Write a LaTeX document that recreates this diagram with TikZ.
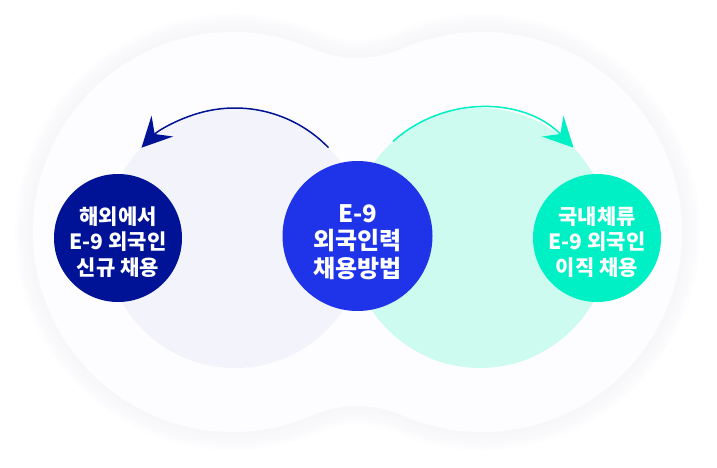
\documentclass[tikz,border=0pt]{standalone}
\usepackage{fontspec}
\newfontfamily\krfont{Noto Sans CJK KR}
\usepackage{tikz}
\usetikzlibrary{calc}
\usetikzlibrary{arrows.meta}

\definecolor{navy}{RGB}{0,19,150}
\definecolor{royal}{RGB}{31,52,232}
\definecolor{mint}{RGB}{0,240,198}
\definecolor{mintpale}{RGB}{205,251,239}
\definecolor{lilacpale}{RGB}{243,244,251}
\definecolor{blobfill}{RGB}{253,253,255}
\definecolor{blobshade}{RGB}{232,232,248}

% outline of the two-lobed backdrop
\def\blobpath{(233,235) ++(66.4:200pt)
  arc[start angle=66.4, end angle=293.6, radius=200pt]
  arc[start angle=113.6, end angle=66.4, radius=111pt]
  arc[start angle=246.4, end angle=473.6, radius=200pt]
  arc[start angle=293.6, end angle=246.4, radius=111pt] -- cycle}

\begin{document}
\begin{tikzpicture}[x=1pt, y=1pt]
    \tikzstyle{hub}=[circle, fill=royal, inner sep=0pt, minimum size=150pt];
    \tikzstyle{spoke}=[circle, inner sep=0pt, minimum size=128pt];
    \tikzstyle{hubtxt}=[text=white, align=center, font=\krfont\bfseries\fontsize{24}{27.5}\selectfont];
    \tikzstyle{spoketxt}=[text=white, align=center, font=\krfont\bfseries\fontsize{21}{25.5}\selectfont];
    \tikzstyle{turn}=[line width=1.5pt, -{Stealth[length=30pt, width=30pt, inset=11pt]}];
    \pgfmathsetmacro{\rad}{130}
    \useasboundingbox (0,0) rectangle (717,467);
    \fill[white] (0,0) rectangle (717,467);
    % soft shadow, then the backdrop
    \foreach \w in {36,30,...,6} {
      \draw[blobshade, line width=\w pt, opacity=0.05, line join=round] \blobpath;
    }
    \fill[blobfill] \blobpath;
    % pale discs
    \coordinate (lpale) at (235,229);
    \coordinate (rpale) at (480,229);
    \fill[lilacpale] (lpale) circle[radius=\rad pt];
    \fill[mintpale] (rpale) circle[radius=\rad pt];
    % arcs
    \coordinate (lfrom) at ($(lpale)+(44:\rad pt)$);
    \coordinate (rfrom) at ($(rpale)+(132:\rad pt)$);
    \draw[turn, navy] (lfrom) arc[start angle=44, end angle=136, radius=\rad pt];
    \draw[turn, mint] (rfrom) arc[start angle=132, end angle=44, radius=\rad pt];
    % circles
    \node[spoke, fill=navy] (overseas) at (118,229) {};
    \node[hub] (method) at (357.5,231) {};
    \node[spoke, fill=mint] (domestic) at (597,229) {};
    \node[spoketxt] (overseastxt) at ([yshift=-4pt]overseas.center) {해외에서\\E-9 외국인\\신규 채용};
    \node[hubtxt] (methodtxt) at ([yshift=-6pt]method.center) {E-9\\외국인력\\채용방법};
    \node[spoketxt] (domestictxt) at ([yshift=-4pt]domestic.center) {국내체류\\E-9 외국인\\이직 채용};
  \end{tikzpicture}
\end{document}
